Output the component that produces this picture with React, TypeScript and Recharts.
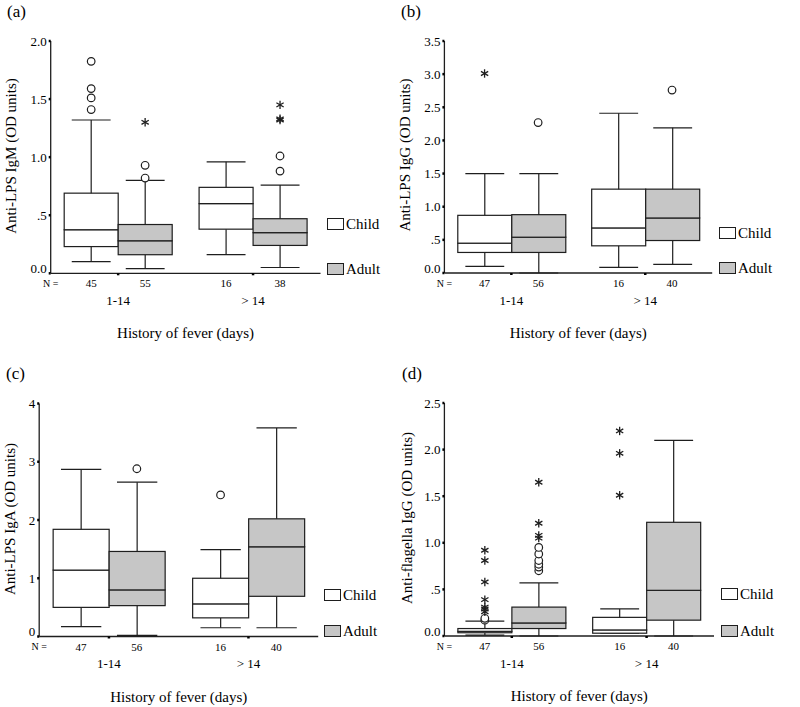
import React from 'react';
import { ComposedChart, Bar, Scatter, XAxis, YAxis } from 'recharts';

const groups = ['1-14', '> 14'];
const seriesNames = ['Child', 'Adult'];

// each box: [lower whisker, Q1, median, Q3, upper whisker], one per fever group
const igmChild = [[0.10, 0.23, 0.375, 0.69, 1.32], [0.16, 0.38, 0.60, 0.74, 0.96]];
const igmAdult = [[0.04, 0.16, 0.28, 0.42, 0.80], [0.05, 0.24, 0.35, 0.47, 0.76]];
const igmChildN = [45, 16];
const igmAdultN = [55, 38];
// outliers: [group, series (0 child, 1 adult), value, marker]
const igmOutliers = [
  [0, 0, 1.41, 'o'], [0, 0, 1.51, 'o'], [0, 0, 1.59, 'o'], [0, 0, 1.825, 'o'],
  [0, 1, 0.82, 'o'], [0, 1, 0.93, 'o'], [0, 1, 1.30, '*'],
  [1, 1, 0.88, 'o'], [1, 1, 1.01, 'o'], [1, 1, 1.32, '*'], [1, 1, 1.33, '*'], [1, 1, 1.45, '*'],
];
const igmTicks = [0, 0.5, 1, 1.5, 2];
const igmTickLabels = ['0.0', '.5', '1.0', '1.5', '2.0'];

const iggChild = [[0.10, 0.31, 0.45, 0.87, 1.50], [0.085, 0.41, 0.68, 1.265, 2.41]];
const iggAdult = [[0, 0.31, 0.54, 0.88, 1.50], [0.13, 0.49, 0.83, 1.265, 2.19]];
const iggChildN = [47, 16];
const iggAdultN = [56, 40];
const iggOutliers = [[0, 0, 3.01, '*'], [0, 1, 2.27, 'o'], [1, 1, 2.76, 'o']];
const iggTicks = [0, 0.5, 1, 1.5, 2, 2.5, 3, 3.5];
const iggTickLabels = ['0.0', '.5', '1.0', '1.5', '2.0', '2.5', '3.0', '3.5'];

const igaChild = [[0.17, 0.50, 1.14, 1.84, 2.87], [0.15, 0.32, 0.56, 1.00, 1.49]];
const igaAdult = [[0.02, 0.53, 0.80, 1.46, 2.65], [0.15, 0.69, 1.54, 2.02, 3.58]];
const igaChildN = [47, 16];
const igaAdultN = [56, 40];
const igaOutliers = [[0, 1, 2.88, 'o'], [1, 0, 2.43, 'o']];
const igaTicks = [0, 1, 2, 3, 4];
const igaTickLabels = ['0', '1', '2', '3', '4'];

const flaChild = [[0.01, 0.035, 0.05, 0.08, 0.16], [0.03, 0.03, 0.065, 0.20, 0.29]];
const flaAdult = [[0, 0.08, 0.14, 0.31, 0.57], [0, 0.17, 0.49, 1.22, 2.10]];
const flaChildN = [47, 16];
const flaAdultN = [56, 40];
const flaOutliers = [
  [0, 0, 0.17, 'o'], [0, 0, 0.19, 'o'], [0, 0, 0.26, '*'], [0, 0, 0.29, '*'], [0, 0, 0.31, '*'],
  [0, 0, 0.39, '*'], [0, 0, 0.58, '*'], [0, 0, 0.81, '*'], [0, 0, 0.92, '*'],
  [0, 1, 0.70, 'o'], [0, 1, 0.74, 'o'], [0, 1, 0.77, 'o'], [0, 1, 0.81, 'o'], [0, 1, 0.88, 'o'],
  [0, 1, 0.95, 'o'], [0, 1, 1.05, '*'], [0, 1, 1.08, '*'], [0, 1, 1.21, '*'], [0, 1, 1.65, '*'],
  [1, 0, 1.51, '*'], [1, 0, 1.96, '*'], [1, 0, 2.20, '*'],
];
const flaTicks = [0, 0.5, 1, 1.5, 2, 2.5];
const flaTickLabels = ['0.0', '.5', '1.0', '1.5', '2.0', '2.5'];

const FONT = '"Liberation Serif", "Times New Roman", serif';
const INK = '#1e1e1e';
const ADULT_FILL = '#c6c6c6';
const GAP = 0.1; // barCategoryGap as fraction of band

const panels = [
  {
    letter: '(a)', yLabel: 'Anti-LPS IgM (OD units)',
    child: igmChild, adult: igmAdult, childN: igmChildN, adultN: igmAdultN, outliers: igmOutliers,
    ticks: igmTicks, tickLabels: igmTickLabels,
    left: 0, top: 0, w: 400, h: 357, plot: [50.7, 320.5, 41, 273.3],
    letterPos: [7, 11], yLabelPos: [11, 156], legendPos: [327, 218, 263],
  },
  {
    letter: '(b)', yLabel: 'Anti-LPS IgG (OD units)',
    child: iggChild, adult: iggAdult, childN: iggChildN, adultN: iggAdultN, outliers: iggOutliers,
    ticks: iggTicks, tickLabels: iggTickLabels,
    left: 400, top: 0, w: 400, h: 357, plot: [44.4, 312.2, 41, 273],
    letterPos: [1, 11], yLabelPos: [5, 155], legendPos: [319, 227, 262],
  },
  {
    letter: '(c)', yLabel: 'Anti-LPS IgA (OD units)',
    child: igaChild, adult: igaAdult, childN: igaChildN, adultN: igaAdultN, outliers: igaOutliers,
    ticks: igaTicks, tickLabels: igaTickLabels,
    left: 0, top: 340, w: 400, h: 367, plot: [39.2, 318.2, 63.5, 296.5],
    letterPos: [6, 33], yLabelPos: [9.5, 179], legendPos: [324, 249, 285],
  },
  {
    letter: '(d)', yLabel: 'Anti-flagella IgG (OD units)',
    child: flaChild, adult: flaAdult, childN: flaChildN, adultN: flaAdultN, outliers: flaOutliers,
    ticks: flaTicks, tickLabels: flaTickLabels,
    left: 400, top: 340, w: 400, h: 367, plot: [44.4, 314, 63, 296],
    letterPos: [2, 33], yLabelPos: [6.5, 178], legendPos: [321, 248, 285],
  },
];

const emptyShape = () => <g />;

const boxShape = (fill: string) => (p: any) => (
  <rect x={p.x} y={p.y} width={p.width} height={Math.max(p.height, 0)} fill={fill} stroke={INK} strokeWidth={1.2} />
);

const whiskerShape = (upper: boolean) => (p: any) => {
  const cx = p.x + p.width / 2;
  const capY = upper ? p.y : p.y + p.height;
  const half = p.width * 0.36;
  return (
    <g stroke={INK} strokeWidth={1.2}>
      <line x1={cx} x2={cx} y1={p.y} y2={p.y + p.height} />
      <line x1={cx - half} x2={cx + half} y1={capY} y2={capY} />
    </g>
  );
};

const outlierShape = (p: any) => {
  const { cx, cy, payload } = p;
  if (payload.k === 'o') {
    return <circle cx={cx} cy={cy} r={3.8} fill="#fff" stroke={INK} strokeWidth={1.2} />;
  }
  const r = 4.2;
  const dx = r * 0.866;
  const dy = r * 0.5;
  return (
    <g stroke={INK} strokeWidth={1.3}>
      <line x1={cx} x2={cx} y1={cy - r} y2={cy + r} />
      <line x1={cx - dx} x2={cx + dx} y1={cy - dy} y2={cy + dy} />
      <line x1={cx - dx} x2={cx + dx} y1={cy + dy} y2={cy - dy} />
    </g>
  );
};

function BoxPanel({ cfg }: { cfg: any }) {
  const [pl, pr, pt, pb] = cfg.plot;
  const band = (pr - pl) / 2;

  const rows = groups.map((name, i) => {
    const c = cfg.child[i];
    const a = cfg.adult[i];
    return {
      name,
      cBase: c[0], cLo: c[1] - c[0], cB1: c[2] - c[1], cB2: c[3] - c[2], cHi: c[4] - c[3],
      aBase: a[0], aLo: a[1] - a[0], aB1: a[2] - a[1], aB2: a[3] - a[2], aHi: a[4] - a[3],
      cN: cfg.childN[i], aN: cfg.adultN[i],
    };
  });

  const points = cfg.outliers.map(([g, s, v, k]: any) => ({
    x: g + GAP + ((1 - 2 * GAP) * (2 * s + 1)) / 4,
    y: v,
    k,
  }));

  const renderXTick = (p: any) => {
    const { x, payload } = p;
    const row = rows.find((r) => r.name === payload.value);
    const first = row === rows[0];
    const t = { fontFamily: FONT, fill: '#000', dominantBaseline: 'central' as const, textAnchor: 'middle' as const };
    return (
      <g>
        {first && <text {...t} x={x - band / 2} y={pb + 10} fontSize={10}>N =</text>}
        <text {...t} x={x - band * 0.2} y={pb + 10} fontSize={11}>{row?.cN}</text>
        <text {...t} x={x + band * 0.2} y={pb + 10} fontSize={11}>{row?.aN}</text>
        <text {...t} x={x} y={pb + 27} fontSize={13}>{payload.value}</text>
        {first && <text {...t} x={x + band / 2} y={pb + 60} fontSize={15}>History of fever (days)</text>}
      </g>
    );
  };

  const renderYTick = (p: any) => {
    const { x, y, payload } = p;
    const idx = cfg.ticks.indexOf(payload.value);
    return (
      <text x={x} y={payload.value === 0 ? y - 5 : y} textAnchor="end" dominantBaseline="central"
        fontSize={13} fontFamily={FONT} fill="#000">
        {cfg.tickLabels[idx]}
      </text>
    );
  };

  const [lx, ly1, ly2] = cfg.legendPos;
  const legendItems = [
    { name: seriesNames[0], top: ly1, fill: '#fff' },
    { name: seriesNames[1], top: ly2, fill: ADULT_FILL },
  ];

  return (
    <div style={{ position: 'absolute', left: cfg.left, top: cfg.top, width: cfg.w, height: cfg.h }}>
      <ComposedChart
        width={cfg.w}
        height={cfg.h}
        data={rows}
        barGap={0}
        barCategoryGap={`${GAP * 100}%`}
        margin={{ top: pt, left: pl - 40, right: cfg.w - pr, bottom: cfg.h - pb - 20 }}
      >
        <XAxis
          xAxisId="cat" dataKey="name" type="category" height={20} interval={0}
          axisLine={{ stroke: INK, strokeWidth: 1.3 }}
          tickLine={{ stroke: '#000', strokeWidth: 2.5 }} tickSize={2}
          tick={renderXTick}
        />
        <XAxis xAxisId="pos" dataKey="x" type="number" domain={[0, 2]} hide />
        <YAxis
          type="number" width={40} domain={[0, cfg.ticks[cfg.ticks.length - 1]]} ticks={cfg.ticks} interval={0}
          axisLine={{ stroke: INK, strokeWidth: 1.3 }}
          tickLine={{ stroke: '#000', strokeWidth: 2.5 }} tickSize={2}
          tick={renderYTick}
        />
        <Bar xAxisId="cat" dataKey="cBase" stackId="child" shape={emptyShape} isAnimationActive={false} />
        <Bar xAxisId="cat" dataKey="cLo" stackId="child" shape={whiskerShape(false)} isAnimationActive={false} />
        <Bar xAxisId="cat" dataKey="cB1" stackId="child" shape={boxShape('#fff')} isAnimationActive={false} />
        <Bar xAxisId="cat" dataKey="cB2" stackId="child" shape={boxShape('#fff')} isAnimationActive={false} />
        <Bar xAxisId="cat" dataKey="cHi" stackId="child" shape={whiskerShape(true)} isAnimationActive={false} />
        <Bar xAxisId="cat" dataKey="aBase" stackId="adult" shape={emptyShape} isAnimationActive={false} />
        <Bar xAxisId="cat" dataKey="aLo" stackId="adult" shape={whiskerShape(false)} isAnimationActive={false} />
        <Bar xAxisId="cat" dataKey="aB1" stackId="adult" shape={boxShape(ADULT_FILL)} isAnimationActive={false} />
        <Bar xAxisId="cat" dataKey="aB2" stackId="adult" shape={boxShape(ADULT_FILL)} isAnimationActive={false} />
        <Bar xAxisId="cat" dataKey="aHi" stackId="adult" shape={whiskerShape(true)} isAnimationActive={false} />
        <Scatter xAxisId="pos" data={points} dataKey="y" shape={outlierShape} isAnimationActive={false} />
      </ComposedChart>

      <div style={{ position: 'absolute', left: cfg.letterPos[0], top: cfg.letterPos[1], transform: 'translateY(-50%)', fontSize: 17, lineHeight: '17px' }}>
        {cfg.letter}
      </div>
      <div style={{
        position: 'absolute', left: cfg.yLabelPos[0], top: cfg.yLabelPos[1], whiteSpace: 'nowrap',
        transform: 'translate(-50%, -50%) rotate(-90deg)', fontSize: 15, lineHeight: '15px',
      }}>
        {cfg.yLabel}
      </div>
      {legendItems.map((it) => (
        <React.Fragment key={it.name}>
          <div style={{
            position: 'absolute', left: lx, top: it.top, width: 17, height: 12, boxSizing: 'border-box',
            border: `1px solid ${INK}`, background: it.fill,
          }} />
          <div style={{ position: 'absolute', left: lx + 19, top: it.top + 6, transform: 'translateY(-50%)', fontSize: 15, lineHeight: '15px' }}>
            {it.name}
          </div>
        </React.Fragment>
      ))}
    </div>
  );
}

export default function App() {
  return (
    <div style={{ position: 'absolute', left: 0, top: 0, width: 800, height: 707, background: '#fff', fontFamily: FONT, color: '#000' }}>
      {panels.map((cfg) => (
        <BoxPanel key={cfg.letter} cfg={cfg} />
      ))}
    </div>
  );
}
